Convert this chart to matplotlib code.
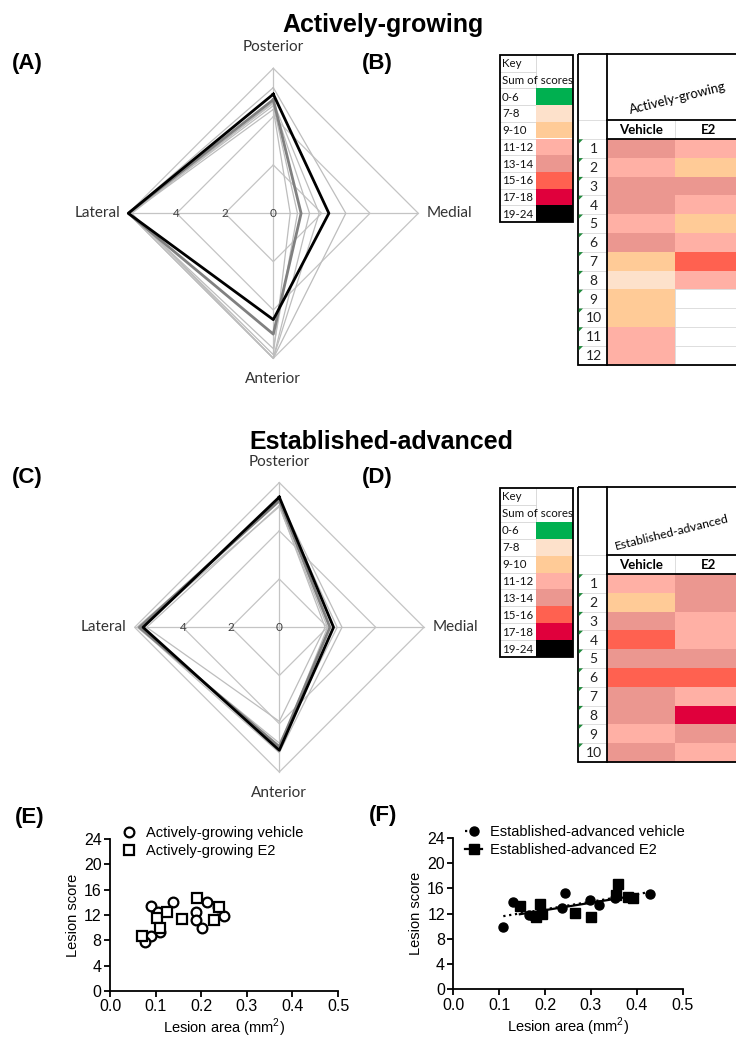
import numpy as np
import matplotlib
matplotlib.use('Agg')
import matplotlib.pyplot as plt
from matplotlib.patches import Rectangle, Polygon
from matplotlib.lines import Line2D

plt.rcParams['font.family'] = ['Liberation Sans', 'DejaVu Sans']
plt.rcParams['mathtext.fontset'] = 'custom'
plt.rcParams['mathtext.rm'] = 'Liberation Sans'

# ---------------- data ----------------
radar_labels = ['Posterior', 'Medial', 'Anterior', 'Lateral']
radar_tick_values = [0, 2, 4]
radar_rings = [2, 4, 6]

# Actively-growing radar (Posterior, Medial, Anterior, Lateral)
ag_vehicle = [4.93, 2.30, 4.40, 6.00]
ag_e2 = [4.70, 1.15, 5.00, 6.00]
ag_individual = [
    [5.20, 3.00, 6.00, 6.00],
    [4.55, 1.50, 6.00, 6.00],
    [4.30, 0.70, 5.85, 5.90],
    [4.45, 1.00, 5.60, 5.95],
    [4.60, 1.90, 6.00, 5.85],
]
# Established-advanced radar
ea_vehicle = [5.40, 2.25, 5.10, 5.65]
ea_e2 = [5.25, 2.10, 4.95, 5.80]
ea_individual = [
    [5.30, 2.60, 5.20, 5.85],
    [5.05, 1.90, 3.90, 5.50],
    [5.00, 2.00, 5.00, 5.75],
    [5.20, 2.40, 4.80, 5.90],
]

key_labels = ['0-6', '7-8', '9-10', '11-12', '13-14', '15-16', '17-18', '19-24']
key_colors = ['#00B050', '#FDE1CB', '#FFCB97', '#FFB0A5', '#EB9790', '#FF6150', '#E0003C', '#000000']

ag_vehicle_scores = ['13-14', '11-12', '13-14', '13-14', '11-12', '13-14',
                     '9-10', '7-8', '9-10', '9-10', '11-12', '11-12']
ag_e2_scores = ['11-12', '9-10', '13-14', '11-12', '9-10', '11-12',
                '15-16', '11-12', None, None, None, None]
ea_vehicle_scores = ['11-12', '9-10', '13-14', '15-16', '13-14',
                     '15-16', '13-14', '13-14', '11-12', '13-14']
ea_e2_scores = ['13-14', '13-14', '11-12', '11-12', '13-14',
                '15-16', '11-12', '17-18', '13-14', '11-12']

# (E) Actively-growing scatter
agv_area = [0.091, 0.139, 0.106, 0.110, 0.091, 0.077, 0.213, 0.236, 0.189, 0.189, 0.201, 0.249]
agv_score = [13.47, 14.10, 12.50, 9.30, 8.74, 7.80, 14.00, 13.30, 12.50, 11.20, 9.90, 11.90]
age2_area = [0.102, 0.126, 0.157, 0.110, 0.070, 0.190, 0.240, 0.227]
age2_score = [11.57, 12.50, 11.37, 10.00, 8.74, 14.74, 13.30, 11.20]

# (F) Established-advanced scatter
eav_area = [0.109, 0.131, 0.166, 0.174, 0.244, 0.238, 0.298, 0.318, 0.352, 0.428]
eav_score = [9.81, 13.87, 11.76, 11.60, 15.30, 12.82, 14.14, 13.30, 14.50, 15.05]
eae2_area = [0.145, 0.180, 0.193, 0.190, 0.265, 0.300, 0.354, 0.358, 0.381, 0.391]
eae2_score = [13.19, 11.50, 11.90, 13.50, 12.03, 11.50, 14.90, 16.67, 14.56, 14.40]

x_ticks = [0.0, 0.1, 0.2, 0.3, 0.4, 0.5]
y_ticks = [0, 4, 8, 12, 16, 20, 24]

# ---------------- figure ----------------
W, H = 736, 1041
fig = plt.figure(figsize=(W / 100, H / 100), dpi=100)

# overlay in pixel coordinates for titles, labels and the Excel tables
ov = fig.add_axes([0, 0, 1, 1])
ov.set_xlim(0, W)
ov.set_ylim(H, 0)
ov.axis('off')

excel_font = ['Lato', 'DejaVu Sans']

ov.text(383, 32, 'Actively-growing', ha='center', va='baseline', fontsize=18, fontweight='bold')
ov.text(381, 449, 'Established-advanced', ha='center', va='baseline', fontsize=18, fontweight='bold')
for lab, x, y in [('(A)', 12, 64), ('(B)', 362, 64), ('(C)', 12, 477), ('(D)', 362, 477),
                  ('(E)', 15, 818), ('(F)', 369, 816)]:
    ov.text(x, y, lab, ha='left', va='center', fontsize=16, fontweight='bold')

color_of = dict(zip(key_labels, key_colors))


def draw_key(x0, y0, row_h, w1, w2):
    rows = ['Key', 'Sum of scores'] + key_labels
    for i, lab in enumerate(rows):
        y = y0 + i * row_h
        if i >= 2:
            ov.add_patch(Rectangle((x0 + w1, y), w2, row_h, fc=color_of[lab], ec='none', zorder=2))
        ov.text(x0 + 2, y + row_h / 2 + 0.5, lab, ha='left', va='center', fontsize=8.3,
                family=excel_font, color='#111111', zorder=4)
        if i > 0:
            ov.plot([x0, x0 + w1], [y, y], color='#d4d4d4', lw=0.6, zorder=1)
    ov.plot([x0 + w1, x0 + w1], [y0, y0 + 2 * row_h], color='#d4d4d4', lw=0.6, zorder=1)
    ov.add_patch(Rectangle((x0, y0), w1 + w2, row_h * len(rows), fc='none', ec='black', lw=1.3, zorder=5))


def draw_main(x0, y0, header_h, sub_h, row_h, widths, title, veh, e2):
    x1 = x0 + widths[0]
    x2 = x1 + widths[1]
    x3 = x2 + widths[2]
    n = len(veh)
    ys = y0 + header_h
    yr = ys + sub_h
    ye = yr + n * row_h
    # faint gridlines
    for i in range(n + 1):
        ov.plot([x0, x3], [yr + i * row_h, yr + i * row_h], color='#d8d8d8', lw=0.6, zorder=1)
    ov.plot([x0, x1], [ys, ys], color='#d8d8d8', lw=0.6, zorder=1)
    ov.plot([x2, x2], [ys, ye], color='#d8d8d8', lw=0.6, zorder=1)
    for i, (v, e) in enumerate(zip(veh, e2)):
        y = yr + i * row_h
        if v:
            ov.add_patch(Rectangle((x1, y), widths[1], row_h, fc=color_of[v], ec='none', zorder=2))
        if e:
            ov.add_patch(Rectangle((x2, y), widths[2], row_h, fc=color_of[e], ec='none', zorder=2))
        ov.text((x0 + x1) / 2 + 1, y + row_h / 2 + 0.8, str(i + 1), ha='center', va='center',
                fontsize=10, family=excel_font, color='#222222', zorder=4)
        ov.add_patch(Polygon([(x0 + 0.8, y + 0.3), (x0 + 5, y + 0.3), (x0 + 0.8, y + 4.5)],
                             closed=True, fc='#1F8A3B', ec='none', zorder=6))
    ov.text((x1 + x2) / 2, ys + sub_h / 2 + 0.5, 'Vehicle', ha='center', va='center', fontsize=9.5,
            fontweight='bold', family=excel_font, zorder=4)
    ov.text((x2 + x3) / 2, ys + sub_h / 2 + 0.5, 'E2', ha='center', va='center', fontsize=9.5,
            fontweight='bold', family=excel_font, zorder=4)
    ov.text(title[1], title[2], title[0], ha='left', va='baseline', rotation=14,
            rotation_mode='anchor', fontsize=title[3], family=excel_font, zorder=4)
    ov.add_patch(Rectangle((x0, y0), x3 - x0, ye - y0, fc='none', ec='black', lw=1.3, zorder=5))
    ov.plot([x1, x1], [y0, ye], color='black', lw=1.3, zorder=5)
    ov.plot([x1, x3], [ys, ys], color='black', lw=1.3, zorder=5)
    ov.plot([x1, x3], [yr, yr], color='black', lw=1.3, zorder=5)


draw_key(500, 55, 16.7, 36, 37)
draw_main(578, 54, 66, 19, 18.8, [29, 68, 68], ('Actively-growing', 630, 114, 9.5),
          ag_vehicle_scores, ag_e2_scores)
draw_key(500, 488, 16.9, 36, 37)
draw_main(578, 487, 68, 19, 18.8, [29, 68, 68], ('Established-advanced', 616, 550, 8.8),
          ea_vehicle_scores, ea_e2_scores)


# ---------------- radar charts ----------------
def draw_radar(cx, cy, rad, vehicle, e2, individual):
    rect = [(cx - rad) / W, (H - cy - rad) / H, 2 * rad / W, 2 * rad / H]
    ax = fig.add_axes(rect, projection='polar')
    ax.set_theta_zero_location('N')
    ax.set_theta_direction(-1)
    ax.set_ylim(0, 6)
    ax.grid(False)
    ax.set_xticks([])
    ax.set_yticks([])
    ax.spines['polar'].set_visible(False)
    ax.patch.set_alpha(0)
    th = np.deg2rad([0, 90, 180, 270])
    thc = np.append(th, th[0] + 2 * np.pi)
    for r in radar_rings:
        ax.plot(thc, [r] * 5, color='#c4c4c4', lw=0.9, clip_on=False, zorder=1)
    for t in th:
        ax.plot([t, t], [0, 6], color='#c4c4c4', lw=0.9, clip_on=False, zorder=1)
    for s in individual:
        ax.plot(thc, list(s) + [s[0]], color='#bdbdbd', lw=0.9, clip_on=False, zorder=2)
    ax.plot(thc, list(e2) + [e2[0]], color='#808080', lw=2.0, clip_on=False, zorder=3)
    ax.plot(thc, list(vehicle) + [vehicle[0]], color='black', lw=2.0, clip_on=False, zorder=4)
    for v in radar_tick_values:
        ax.text(np.deg2rad(270), v, str(v), ha='center', va='center', fontsize=8.5,
                family=excel_font, color='#404040', zorder=5)
    offs = {'Posterior': (0, 15, 'center', 'center'), 'Medial': (6, 0, 'left', 'center'),
            'Anterior': (0, -15, 'center', 'center'), 'Lateral': (-6, 0, 'right', 'center')}
    for t, lab in zip(th, radar_labels):
        dx, dy, ha, va = offs[lab]
        ax.annotate(lab, xy=(t, 6), xytext=(dx, dy), textcoords='offset points', ha=ha, va=va,
                    fontsize=11, family=excel_font, color='#333333', annotation_clip=False)
    return ax


draw_radar(273.3, 213.3, 145, ag_vehicle, ag_e2, ag_individual)
draw_radar(279.3, 627.3, 144.7, ea_vehicle, ea_e2, ea_individual)


# ---------------- scatter plots ----------------
def style_scatter(ax):
    ax.set_xlim(0, 0.5)
    ax.set_ylim(0, 24)
    ax.set_xticks(x_ticks)
    ax.set_xticklabels([f'{v:.1f}' for v in x_ticks])
    ax.set_yticks(y_ticks)
    for s in ['top', 'right']:
        ax.spines[s].set_visible(False)
    for s in ['left', 'bottom']:
        ax.spines[s].set_linewidth(1.3)
    ax.tick_params(direction='out', length=4, width=1.3, labelsize=11.5, pad=2)
    ax.set_xlabel(r'Lesion area (mm$^\mathregular{2}$)', fontsize=10.5, labelpad=2)
    ax.set_ylabel('Lesion score', fontsize=10.5, labelpad=3)
    ax.patch.set_alpha(0)


axE = fig.add_axes([110 / W, (H - 991) / H, 228 / W, 152 / H])
style_scatter(axE)
axE.plot(agv_area, agv_score, 'o', ms=7, mfc='white', mec='black', mew=1.6, ls='none', clip_on=False)
axE.plot(age2_area, age2_score, 's', ms=7, mfc='white', mec='black', mew=1.6, ls='none', clip_on=False)
hE = [Line2D([], [], marker='o', ms=7, mfc='white', mec='black', mew=1.6, ls='none'),
      Line2D([], [], marker='s', ms=7, mfc='white', mec='black', mew=1.6, ls='none')]
axE.legend(hE, ['Actively-growing vehicle', 'Actively-growing E2'], loc='upper left',
           bbox_to_anchor=(0.045, 1.085), frameon=False, fontsize=10.5, handlelength=1.2,
           handletextpad=0.55, labelspacing=0.3, borderaxespad=0, borderpad=0)

axF = fig.add_axes([453.3 / W, (H - 989.3) / H, 229.4 / W, 151.6 / H])
style_scatter(axF)
axF.plot(eav_area, eav_score, 'o', ms=6.5, color='black', ls='none', clip_on=False)
axF.plot(eae2_area, eae2_score, 's', ms=6.5, color='black', ls='none', clip_on=False)
for xs, ys, ls in [(eav_area, eav_score, ':'), (eae2_area, eae2_score, '-')]:
    k, b = np.polyfit(xs, ys, 1)
    xx = np.array([min(xs), max(xs)])
    axF.plot(xx, k * xx + b, color='black', ls=ls, lw=1.6)
hF = [Line2D([], [], marker='o', ms=6.5, color='black', ls=':', lw=1.6),
      Line2D([], [], marker='s', ms=6.5, color='black', ls='-', lw=1.6)]
axF.legend(hF, ['Established-advanced vehicle', 'Established-advanced E2'], loc='upper left',
           bbox_to_anchor=(0.05, 1.085), frameon=False, fontsize=10.5, handlelength=1.2,
           handletextpad=0.55, labelspacing=0.3, borderaxespad=0, borderpad=0)

fig.savefig('out.png', dpi=100)
